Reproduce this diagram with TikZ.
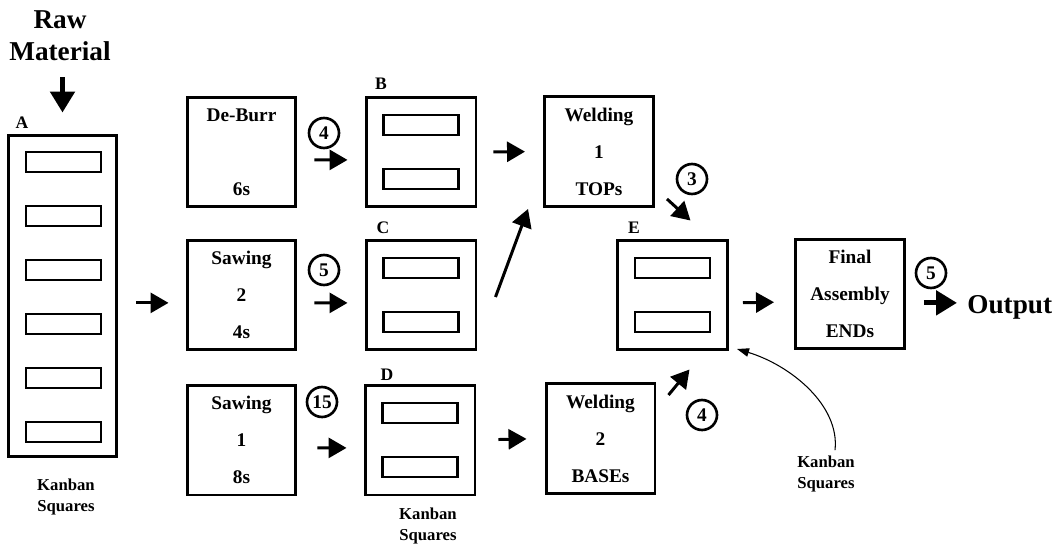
\documentclass[tikz,border=0pt]{standalone}
\usepackage{fontspec}
\setmainfont{Liberation Serif}
\usetikzlibrary{arrows.meta}
\begin{document}
\begin{tikzpicture}[x=0.02cm, y=-0.02cm,
  station/.style={draw, line width=1.7pt, minimum width=2.18cm, minimum height=2.2cm,
    inner sep=0pt, align=center, font=\bfseries\fontsize{11}{21}\selectfont},
  store/.style={draw, line width=1.7pt, minimum width=2.2cm, minimum height=2.2cm, inner sep=0pt},
  slot/.style={draw, line width=1.4pt, minimum width=1.5cm, minimum height=0.4cm, inner sep=0pt},
  flow/.style={line width=1.7pt, -{Triangle[length=0.36cm, width=0.4cm]}},
  bigflow/.style={line width=2.9pt, -{Triangle[length=0.42cm, width=0.48cm]}},
  thinflow/.style={line width=0.6pt, -{Triangle[length=0.24cm, width=0.17cm]}},
  batch/.style={draw, circle, line width=1.5pt, minimum size=0.6cm, inner sep=0pt,
    font=\bfseries\fontsize{11}{11}\selectfont},
  tag/.style={font=\bfseries\fontsize{10}{10}\selectfont},
  note/.style={align=center, font=\bfseries\fontsize{9.5}{11.5}\selectfont},
  big/.style={align=center, font=\bfseries\fontsize{15.5}{18}\selectfont}]
  \useasboundingbox (0,0) rectangle (1058,544);
  % Input store A
  \node[big] (raw) at (60,36) {Raw\\Material};
  \node[draw, line width=1.7pt, minimum width=2.18cm, minimum height=6.44cm, inner sep=0pt] (A) at (62.5,296) {};
  \foreach \k in {0,...,5}
    \node[slot] (a\k) at (63.5,162+54*\k) {};
  \node[tag] (labA) at (22,123) {A};
  \node[note] (kanA) at (66,497) {Kanban\\Squares};
  \draw[bigflow, shorten <=0.2cm, shorten >=0.42cm] (raw.south -| A.north) -- (A.north);
  % First stage
  \node[station] (deburr) at (241.5,152) {De-Burr\\[21pt]6s};
  \node[station] (saw2) at (241.5,295) {Sawing\\2\\4s};
  \node[station] (saw1) at (241.5,440) {Sawing\\1\\8s};
  \draw[flow, shorten <=0.36cm, shorten >=0.34cm] (A.east |- saw2.188) -- (saw2.188);
  % Kanban stores B, C, D
  \node[store] (B) at (421,152) {};
  \node[store] (C) at (421,295) {};
  \node[store] (D) at (420,440) {};
  \foreach \s in {B,C,D} {
    \node[slot] (\s1) at ([yshift=0.54cm]\s.center) {};
    \node[slot] (\s2) at ([yshift=-0.54cm]\s.center) {};
  }
  \node[tag] (labB) at (381,84) {B};
  \node[tag] (labC) at (383,228) {C};
  \node[tag] (labD) at (387,375) {D};
  \node[note] (kanD) at (428,526) {Kanban\\Squares};
  \node[batch] (n4a) at (324,133) {4};
  \node[batch] (n5a) at (324,270) {5};
  \node[batch] (n15) at (322,402) {15};
  \draw[flow, shorten <=0.34cm, shorten >=0.34cm] (deburr.-8) -- (B.188);
  \draw[flow, shorten <=0.34cm, shorten >=0.34cm] (saw2.-8) -- (C.188);
  \draw[flow, shorten <=0.4cm, shorten >=0.34cm] (saw1.-8) -- (D.188);
  % Welding
  \node[station] (weld1) at (599,151.5) {Welding\\1\\TOPs};
  \node[station] (weld2) at (600.5,438.5) {Welding\\2\\BASEs};
  \draw[flow, shorten <=0.32cm, shorten >=0.36cm] (B.east) -- (weld1.west);
  \draw[flow] ([shift={(18,2)}]C.east) -- ([shift={(-15,1)}]weld1.south west);
  \draw[flow, shorten <=0.44cm, shorten >=0.36cm] (D.east) -- (weld2.west);
  % Store E
  \node[store] (E) at (672.5,295) {};
  \node[slot] (E1) at ([yshift=0.54cm]E.center) {};
  \node[slot] (E2) at ([yshift=-0.54cm]E.center) {};
  \node[tag] (labE) at (634,228) {E};
  \node[batch] (n3) at (692,179) {3};
  \node[batch] (n4b) at (702,415) {4};
  \draw[flow] ([shift={(12,-9)}]weld1.south east) -- ([shift={(18,-18)}]E.north);
  \draw[flow] ([shift={(12,13)}]weld2.north east) -- ([shift={(17,18)}]E.south);
  \node[note] (kanE) at (826,474) {Kanban\\Squares};
  \coordinate (tipE) at (737,349);
  \draw[thinflow] ([shift={(9,0)}]kanE.north) .. controls (840,405) and (790,365) .. (tipE);
  % Final assembly
  \node[station] (fin) at (850,294) {Final\\Assembly\\ENDs};
  \node[batch] (n5b) at (931,273) {5};
  \node[font=\bfseries\fontsize{15.5}{18}\selectfont, anchor=base west, inner sep=0pt] (out) at (967,313) {Output};
  \draw[flow, shorten <=0.28cm, shorten >=0.4cm] (E.-8) -- (fin.188);
  \draw[bigflow, shorten <=0.36cm, shorten >=0.2cm] (fin.-9) -- (fin.-9 -| out.west);
\end{tikzpicture}
\end{document}
